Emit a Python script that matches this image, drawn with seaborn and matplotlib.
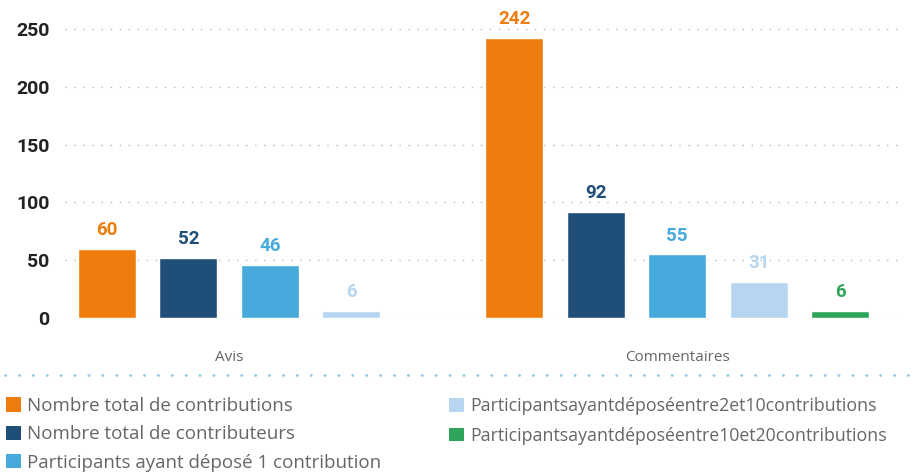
import pandas as pd
import seaborn as sns
import matplotlib.pyplot as plt
from matplotlib.lines import Line2D
from matplotlib.patches import Patch

# données
groupes = ['Avis', 'Commentaires']
series = [
    'Nombre total de contributions',
    'Nombre total de contributeurs',
    'Participants ayant déposé 1 contribution',
    'Participantsayantdéposéentre2et10contributions',
    'Participantsayantdéposéentre10et20contributions',
]
avis = [60, 52, 46, 6]            # pas de barre "entre 10 et 20" pour Avis
commentaires = [242, 92, 55, 31, 6]
couleurs = ['#EF7D0D', '#1F4E78', '#46ABDC', '#B5D5F0', '#2EA55A']

# tableau long : une ligne par barre
rows = []
for g, vals in zip(groupes, [avis, commentaires]):
    for s, v in zip(series, vals):
        rows.append({'groupe': g, 'serie': s, 'valeur': v, 'cle': g + ' | ' + s})
df = pd.DataFrame(rows)

# ordre des barres, avec une case vide entre les deux groupes
ordre = list(df.loc[df['groupe'] == 'Avis', 'cle']) + [' '] + list(df.loc[df['groupe'] == 'Commentaires', 'cle'])
palette = dict(zip(series, couleurs))

sns.set_style('white')
plt.rcParams['font.family'] = ['Roboto', 'DejaVu Sans']

fig = plt.figure(figsize=(9.21, 4.73), dpi=100)
ax = fig.add_axes([65 / 921, 155 / 473, 840 / 921, 300.6 / 473])

sns.barplot(data=df, x='cle', y='valeur', hue='serie', order=ordre, hue_order=series,
            palette=palette, dodge=False, width=0.71, errorbar=None, legend=False,
            saturation=1, ax=ax, zorder=2)

# étiquettes de valeur au-dessus des barres, de la couleur de la série
for cont, s in zip(ax.containers, series):
    ax.bar_label(cont, fmt='%d', padding=7, color=palette[s], fontsize=13.5,
                 fontweight='bold', family=['Roboto', 'DejaVu Sans'])

# axes
ax.set_ylim(0, 260)
ax.set_xlim(-0.515, 9.797)
ax.set_yticks([0, 50, 100, 150, 200, 250])
ax.grid(axis='y', color='#BBBBBB', linestyle=(0, (1, 5.5)), linewidth=1, zorder=0)
ax.grid(axis='x', visible=False)
ax.set_axisbelow(True)
sns.despine(ax=ax, left=True, bottom=True)
ax.set_xlabel('')
ax.set_ylabel('')

# une étiquette par groupe, au centre de ses barres
pos = [sum(ordre.index(k) for k in df.loc[df['groupe'] == g, 'cle']) / (df['groupe'] == g).sum() for g in groupes]
ax.set_xticks(pos)
ax.set_xticklabels(groupes, fontsize=11, color='#666666', family=['Open Sans', 'DejaVu Sans'])
ax.tick_params(axis='x', length=0, pad=23)
ax.tick_params(axis='y', length=0, pad=11, labelsize=14, labelcolor='#222222')
for t in ax.get_yticklabels():
    t.set_fontweight('bold')

# ligne pointillée bleue au-dessus de la légende
fig.add_artist(Line2D([5 / 921, 915 / 921], [(473 - 375) / 473] * 2, transform=fig.transFigure,
                      color='#8DCDE3', linewidth=2, linestyle=(0, (0.1, 4.9)),
                      dash_capstyle='round'))

# légende en deux colonnes
handles = [Patch(facecolor=c, edgecolor='none') for c in couleurs]
opts = dict(frameon=False, loc='upper left', borderpad=0, borderaxespad=0,
            handletextpad=0.35, labelcolor='#666666')
fig.legend(handles[:3], series[:3], bbox_to_anchor=(6 / 921, (473 - 397) / 473),
           handlelength=0.78, handleheight=0.78, labelspacing=0.55,
           prop={'family': ['Open Sans', 'DejaVu Sans'], 'size': 13.5}, **opts)
fig.legend(handles[3:], series[3:], bbox_to_anchor=(449 / 921, (473 - 397) / 473),
           handlelength=0.82, handleheight=0.82, labelspacing=0.66,
           prop={'family': ['Open Sans', 'DejaVu Sans'], 'size': 12.8}, **opts)

fig.savefig('out.png', dpi=100)
